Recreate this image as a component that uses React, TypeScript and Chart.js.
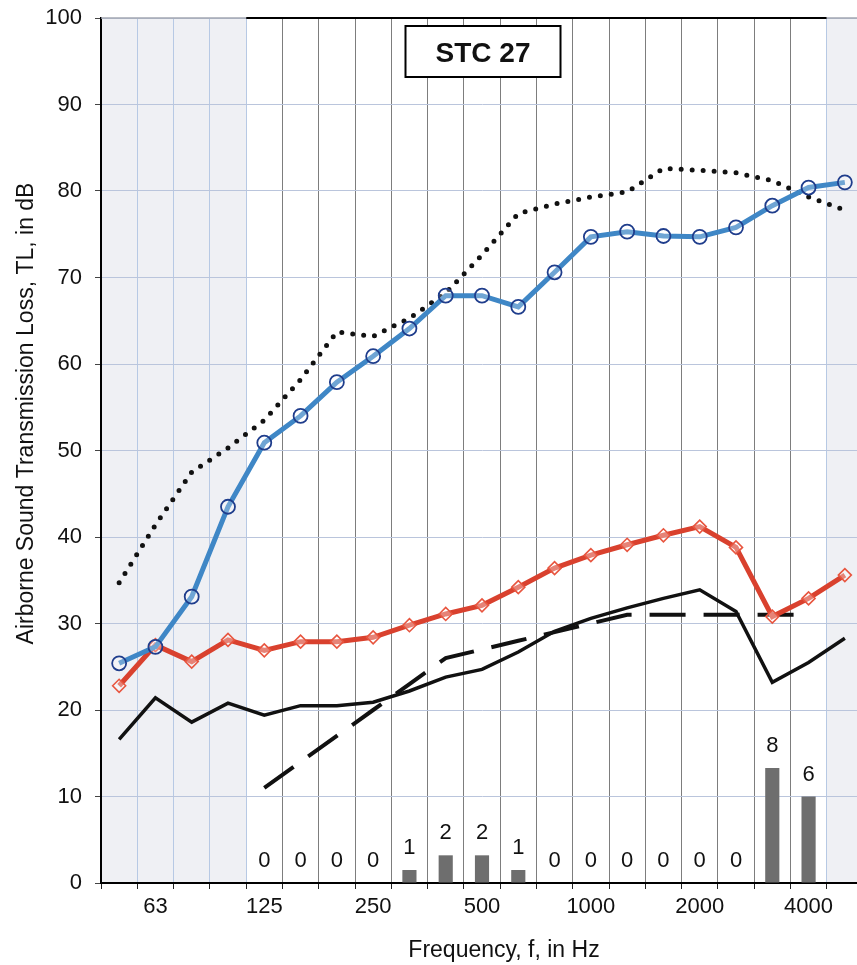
import React, { useEffect, useRef } from 'react';
import { Chart, registerables } from 'chart.js';

Chart.register(...registerables);

// 1/3-octave band centre frequencies (Hz)
const bands = ['50', '63', '80', '100', '125', '160', '200', '250', '315', '400', '500', '630', '800', '1000', '1250', '1600', '2000', '2500', '3150', '4000', '5000'];
const shownTickLabels = ['63', '125', '250', '500', '1000', '2000', '4000'];
const yTicks = [0, 10, 20, 30, 40, 50, 60, 70, 80, 90, 100];

// Transmission loss curves (dB)
const blueTL = [25.4, 27.3, 33.1, 43.5, 50.9, 54.0, 57.9, 60.9, 64.1, 67.9, 67.9, 66.6, 70.6, 74.7, 75.3, 74.8, 74.7, 75.8, 78.3, 80.4, 81.0];
const redTL = [22.8, 27.5, 25.6, 28.1, 26.9, 27.9, 27.9, 28.4, 29.8, 31.1, 32.1, 34.2, 36.4, 37.9, 39.1, 40.2, 41.2, 38.8, 30.8, 32.9, 35.6];
const blackTL = [16.6, 21.4, 18.6, 20.8, 19.4, 20.5, 20.5, 20.9, 22.2, 23.8, 24.7, 26.7, 29.1, 30.6, 31.8, 32.9, 33.9, 31.4, 23.2, 25.5, 28.3];
const dottedTL = [34.7, 41.4, 47.5, 50.3, 53.5, 58.2, 63.7, 63.2, 65.3, 68.2, 72.6, 77.4, 78.5, 79.3, 79.9, 82.6, 82.4, 82.1, 81.2, 79.3, 77.8];
// STC 27 reference contour
const stcContour = [null, null, null, null, 11, 14, 17, 20, 23, 26, 27, 28, 29, 30, 31, 31, 31, 31, 31, 31, null];
// Deficiency bars (as drawn) and their labels
const deficiencyBars = [null, null, null, null, null, null, null, null, 1.5, 3.2, 3.2, 1.5, null, null, null, null, null, null, 13.3, 10.0, null];
const deficiencyLabels = [null, null, null, null, 0, 0, 0, 0, 1, 2, 2, 1, 0, 0, 0, 0, 0, 0, 8, 6, null];
const stcLabel = 'STC 27';
const xTitle = 'Frequency, f, in Hz';
const yTitle = 'Airborne Sound Transmission Loss, TL, in dB';

const FONT = "'Liberation Sans', Arial, sans-serif";

const decorPlugin = {
  id: 'decor',
  beforeDraw(chart: any) {
    const { ctx, chartArea, scales } = chart;
    const x = scales.x;
    const half = (x.getPixelForValue(1) - x.getPixelForValue(0)) / 2;
    const bnd = (i: number) => x.getPixelForValue(i) - half;
    ctx.save();
    ctx.fillStyle = '#eff0f4';
    ctx.fillRect(chartArea.left, chartArea.top, bnd(4) - chartArea.left, chartArea.bottom - chartArea.top);
    ctx.fillRect(bnd(20), chartArea.top, chartArea.right - bnd(20), chartArea.bottom - chartArea.top);
    ctx.restore();
  },
  afterDraw(chart: any) {
    const { ctx, chartArea, scales } = chart;
    const x = scales.x;
    const y = scales.y;
    const half = (x.getPixelForValue(1) - x.getPixelForValue(0)) / 2;
    const bnd = (i: number) => x.getPixelForValue(i) - half;
    ctx.save();
    // top border
    ctx.strokeStyle = '#000';
    ctx.lineWidth = 2;
    ctx.beginPath();
    ctx.moveTo(bnd(4), chartArea.top);
    ctx.lineTo(bnd(20), chartArea.top);
    ctx.stroke();
    ctx.strokeStyle = '#a4a8b2';
    ctx.lineWidth = 1.5;
    ctx.beginPath();
    ctx.moveTo(chartArea.left, chartArea.top);
    ctx.lineTo(bnd(4), chartArea.top);
    ctx.moveTo(bnd(20), chartArea.top);
    ctx.lineTo(chartArea.right, chartArea.top);
    ctx.stroke();

    // STC box
    const cx = x.getPixelForValue(10) + 1;
    const bw = 155;
    const bh = 51;
    const by = chartArea.top + 8;
    ctx.fillStyle = '#fff';
    ctx.fillRect(cx - bw / 2, by, bw, bh);
    ctx.strokeStyle = '#000';
    ctx.lineWidth = 2;
    ctx.strokeRect(cx - bw / 2, by, bw, bh);
    ctx.fillStyle = '#111';
    ctx.font = `bold 28px ${FONT}`;
    ctx.textAlign = 'center';
    ctx.textBaseline = 'alphabetic';
    ctx.fillText(stcLabel, cx, by + bh / 2 + 10);

    // deficiency labels
    ctx.font = `22px ${FONT}`;
    deficiencyLabels.forEach((lab, i) => {
      if (lab === null) return;
      const v = deficiencyBars[i] ?? 0;
      ctx.fillText(String(lab), x.getPixelForValue(i), y.getPixelForValue(v) - 16);
    });

    // axis titles
    ctx.font = `23px ${FONT}`;
    ctx.fillText(xTitle, (chartArea.left + chartArea.right) / 2 + 22, 957);
    ctx.translate(33, (chartArea.top + chartArea.bottom) / 2 - 37);
    ctx.rotate(-Math.PI / 2);
    ctx.fillText(yTitle, 0, 0);
    ctx.restore();
  },
};

export default function App() {
  const ref = useRef<HTMLCanvasElement>(null);
  useEffect(() => {
    const canvas = ref.current!;
    const chart = new Chart(canvas, {
      type: 'line',
      data: {
        labels: bands,
        datasets: [
          {
            type: 'line',
            data: blueTL,
            borderColor: '#3f87c6',
            borderWidth: 5,
            pointStyle: 'circle',
            pointRadius: 7,
            pointBorderColor: '#1f3d8c',
            pointBorderWidth: 1.8,
            pointBackgroundColor: 'rgba(255,255,255,0.25)',
            tension: 0,
            order: 0,
          },
          {
            type: 'line',
            data: redTL,
            borderColor: '#d9412e',
            borderWidth: 5,
            pointStyle: 'rectRot',
            pointRadius: 6.5,
            pointBorderColor: '#e8553f',
            pointBorderWidth: 1.6,
            pointBackgroundColor: 'rgba(255,255,255,0.35)',
            tension: 0,
            order: 1,
          },
          {
            type: 'line',
            data: blackTL,
            borderColor: '#111',
            borderWidth: 3.5,
            pointRadius: 0,
            tension: 0,
            order: 2,
          },
          {
            type: 'line',
            data: dottedTL,
            borderColor: '#111',
            borderWidth: 5,
            borderDash: [0, 11],
            borderCapStyle: 'round',
            pointRadius: 0,
            tension: 0,
            order: 3,
          },
          {
            type: 'line',
            data: stcContour,
            borderColor: '#111',
            borderWidth: 4,
            borderDash: [36, 18],
            borderCapStyle: 'butt',
            pointRadius: 0,
            tension: 0,
            spanGaps: false,
            order: 4,
          },
          {
            type: 'bar',
            data: deficiencyBars,
            backgroundColor: '#6e6e6e',
            barPercentage: 0.39,
            categoryPercentage: 1,
            order: 10,
          },
        ] as any,
      },
      options: {
        animation: false,
        responsive: false,
        devicePixelRatio: 1,
        layout: { padding: { top: 18, right: 17, left: 0, bottom: 0 } },
        plugins: { legend: { display: false }, tooltip: { enabled: false }, title: { display: false } },
        scales: {
          x: {
            type: 'category',
            offset: true,
            afterFit: (s: any) => { s.height = 82; s.paddingLeft = 0; s.paddingRight = 0; },
            grid: {
              offset: true,
              color: (c: any) => (c.index >= 5 && c.index <= 19 ? '#7d7d7d' : '#b7c9e4'),
              lineWidth: 1,
              tickColor: '#222',
              tickLength: 6,
            },
            border: { display: true, color: '#000', width: 2 },
            ticks: {
              autoSkip: false,
              maxRotation: 0,
              padding: 5,
              color: '#111',
              font: { family: FONT, size: 22 },
              callback: function (this: any, v: any) {
                const lab = this.getLabelForValue(v);
                return shownTickLabels.includes(lab) ? lab : '';
              },
            },
          },
          y: {
            min: 0,
            max: 100,
            afterFit: (s: any) => { s.width = 101; s.paddingTop = 0; s.paddingBottom = 0; },
            afterBuildTicks: (s: any) => { s.ticks = yTicks.map((v) => ({ value: v })); },
            grid: { color: '#bac5dc', lineWidth: 1, tickColor: '#444', tickLength: 6 },
            border: { display: true, color: '#000', width: 2 },
            ticks: {
              padding: 13,
              color: '#111',
              font: { family: FONT, size: 22 },
            },
          },
        },
      },
      plugins: [decorPlugin],
    });
    return () => chart.destroy();
  }, []);
  return (
    <div style={{ position: 'fixed', left: 0, top: 0, width: 857, height: 965, overflow: 'hidden', background: '#fff' }}>
      <canvas ref={ref} width={880} height={965} style={{ position: 'absolute', left: 0, top: 0, width: 880, height: 965 }} />
    </div>
  );
}
